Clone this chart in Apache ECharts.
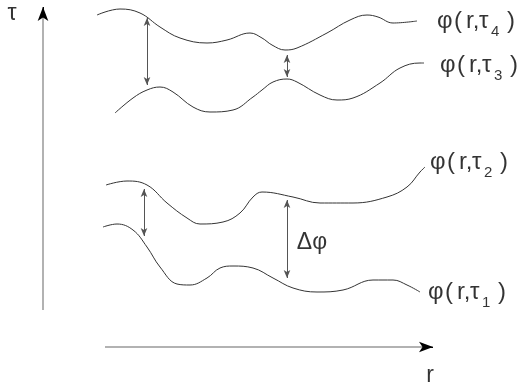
<!DOCTYPE html>
<html><head><meta charset="utf-8">
<script src="https://cdn.jsdelivr.net/npm/echarts@6/dist/echarts.min.js"></script>
<style>html,body{margin:0;padding:0;background:#fff}#c{width:520px;height:392px}</style>
</head><body><div id="c"></div>
<script>
// Curves phi(r, tau_k), sampled as [r, tau-position] in the diagram's frame
const curveTau1 = [[103,227],[117,224],[133,230],[147,247],[160,267],[177,284],[190,285],[207,278],[220,268],[233,266],[253,268],[273,278],[293,288],[317,292],[343,290],[373,280],[393,280],[407,285],[420,292]];
const curveTau2 = [[106,185],[127,181],[147,185],[167,203],[187,218],[200,224],[223,222],[240,213],[253,197],[262,192],[293,197],[320,203],[353,203],[387,197],[407,187],[420,172],[425,167]];
const curveTau3 = [[115,113],[133,98],[147,90],[160,87],[173,92],[193,107],[210,112],[233,110],[253,97],[262,90],[273,82],[287,79],[297,82],[320,95],[337,100],[353,98],[380,83],[400,68],[420,63],[424,63]];
const curveTau4 = [[97,15],[120,9],[140,13],[160,27],[180,38],[207,43],[227,40],[250,33],[262,38],[272,45],[285,50],[297,48],[327,33],[350,20],[367,15],[378,17],[393,23],[417,21]];

// Double-headed separation arrows [start, end]
const gapArrows = [
  [[147,18],[147,85]],
  [[287,55],[287,77]],
  [[144,189],[144,236]],
  [[287,200],[287,278]]
];
// Axis arrows [start, end]
const axisArrows = [
  [[43,310],[43,7]],
  [[105,347],[433,347]]
];
// Text labels
const curveLabelSub = ['1','2','3','4'];
const curveLabelPos = [[428,295],[430,165],[440,68],[437,24]];
const otherLabelText = ['τ','r','Δφ'];
const otherLabelPos = [[12,14],[430,376],[312,243]];

const chart = echarts.init(document.getElementById('c'));
const lineColor = '#333';
function curve(d){
  return {type:'line', data:d, smooth:0.4, symbol:'none', lineStyle:{color:lineColor,width:1}, silent:true, z:2};
}
const font = "Arial, 'Liberation Sans', Helvetica, sans-serif";
const tok = (w, fs) => ({fontFamily:font, fontSize:fs, color:'#000', width:w, align:'left', verticalAlign:'top', lineHeight:30});
chart.setOption({
  animation:false,
  grid:{left:0,right:0,top:0,bottom:0},
  xAxis:{type:'value',min:0,max:520,show:false},
  yAxis:{type:'value',min:0,max:392,inverse:true,show:false},
  series:[
    curve(curveTau1), curve(curveTau2), curve(curveTau3), curve(curveTau4),
    {type:'line', data:[], markLine:{silent:true, symbol:['arrow','arrow'], symbolSize:[5,8], label:{show:false},
      lineStyle:{color:'#555',width:1,type:'solid'},
      data: gapArrows.map(a=>[{coord:a[0]},{coord:a[1]}])}},
    {type:'line', data:[], markLine:{silent:true, symbol:['none','none'], label:{show:false},
      lineStyle:{color:'#999',width:1.5,type:'solid'},
      data: axisArrows.map(a=>[{coord:a[0]},{coord:a[1]}])}},
    {type:'line', data:[], markLine:{silent:true, symbol:['none','arrow'], symbolSize:[8,14], label:{show:false},
      lineStyle:{color:'#000',width:1,type:'solid'},
      data: axisArrows.map(a=>{
        const s=a[0], e=a[1];
        const dx=Math.sign(e[0]-s[0]), dy=Math.sign(e[1]-s[1]);
        return [{coord:[e[0]-dx*8, e[1]-dy*8]},{coord:e}];
      })}},
    {type:'scatter', symbolSize:0, silent:true,
      data: curveLabelPos.map((p,i)=>({value:p, name:curveLabelSub[i]})),
      label:{show:true, position:'right', distance:0,
        formatter: p=>'{g|φ}{p|(}{r|r,}{t|τ}{s|'+p.name+'}{q|)}',
        rich:{g:tok(17,24), p:tok(12,24), r:tok(13,24), t:tok(12,24), q:tok(7,24),
              s:{fontFamily:font,fontSize:15,color:'#000',width:16,align:'left',verticalAlign:'bottom',lineHeight:30}}}},
    {type:'scatter', symbolSize:0, silent:true,
      data: otherLabelPos.map((p,i)=>({value:p, name:otherLabelText[i]})),
      label:{show:true, position:'inside', formatter:p=>p.name, fontFamily:font, fontSize:23, color:'#000'}}
  ]
});
</script></body></html>
